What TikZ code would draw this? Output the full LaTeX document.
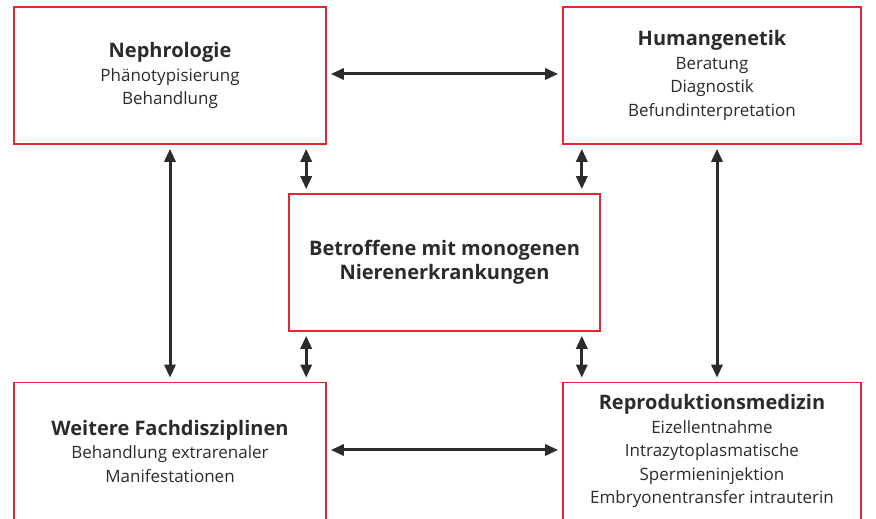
\documentclass[tikz,border=0pt]{standalone}
\usepackage{fontspec}
\setmainfont{Open Sans}
\usetikzlibrary{arrows.meta,positioning}
\definecolor{boxred}{RGB}{228,38,48}
\definecolor{ink}{RGB}{43,43,43}
\newcommand{\hd}[1]{{\bfseries\fontsize{20}{24}\selectfont #1}}

\begin{document}
\begin{tikzpicture}[x=1pt,y=1pt,
 box/.style={draw=boxred,line width=1.6pt,minimum height=137pt,align=center,text=ink,
   inner sep=2pt,font=\fontsize{17}{23.5}\selectfont},
 dbl/.style={{Triangle[length=13pt,width=11pt]}-{Triangle[length=13pt,width=11pt]},
   draw=ink,fill=ink,line width=3pt,shorten <=4pt,shorten >=4pt}]
\useasboundingbox (0,0) rectangle (876,519);
\node[box,minimum width=312pt] (neph) at (170,443.5) {\hd{Nephrologie}\\Phänotypisierung\\Behandlung};
\node[box,minimum width=298pt] (hum) at (712,443.5) {\hd{Humangenetik}\\Beratung\\Diagnostik\\Befundinterpretation};
\node[box,minimum width=311pt] (cen) at (444.5,256.5) {\hd{Betroffene mit monogenen}\\\hd{Nierenerkrankungen}};
\node[box,minimum width=312pt] (weit) at (170,68) {\hd{Weitere Fachdisziplinen}\\Behandlung extrarenaler\\Manifestationen};
\node[box,minimum width=298pt] (repro) at (712,68) {\hd{Reproduktionsmedizin}\\Eizellentnahme\\Intrazytoplasmatische\\Spermieninjektion\\Embryonentransfer intrauterin};
% outer ring
\draw[dbl] (neph.east |- 0,445) -- (hum.west |- 0,445);
\draw[dbl] (weit.east |- 0,69) -- (repro.west |- 0,69);
\draw[dbl] (neph.south) -- (weit.north);
\draw[dbl] ([xshift=5pt]hum.south) -- ([xshift=5pt]repro.north);
% links to the centre
\draw[dbl] ([xshift=18pt]cen.north west) -- ([xshift=18pt]cen.north west |- neph.south);
\draw[dbl] ([xshift=-19pt]cen.north east) -- ([xshift=-19pt]cen.north east |- hum.south);
\draw[dbl] ([xshift=18pt]cen.south west) -- ([xshift=18pt]cen.south west |- weit.north);
\draw[dbl] ([xshift=-19pt]cen.south east) -- ([xshift=-19pt]cen.south east |- repro.north);
\end{tikzpicture}
\end{document}
